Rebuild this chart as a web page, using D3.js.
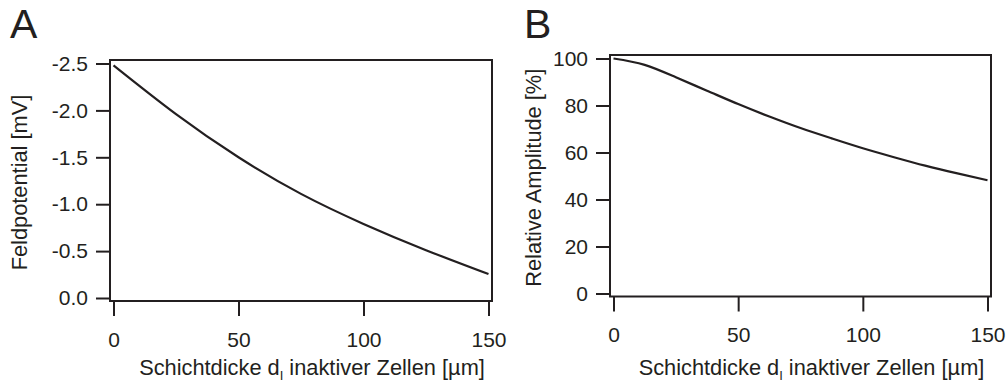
<!DOCTYPE html>
<html>
<head>
<meta charset="utf-8">
<script src="https://cdn.jsdelivr.net/npm/d3@7/dist/d3.min.js"></script>
<style>
  body { margin: 0; background: #fff; }
  svg text { font-family: "Liberation Sans", Arial, Helvetica, sans-serif; fill: #231f20; }
</style>
</head>
<body>
<svg id="fig" width="1008" height="382"></svg>
<script>
// Layer thickness of inactive cells (µm)
const thicknessA = [0, 25, 50, 75, 100, 125, 150];
// Field potential (mV) vs. layer thickness
const fieldPotential = [-2.48, -1.96, -1.50, -1.11, -0.79, -0.51, -0.255];

const thicknessB = [0, 12.5, 25, 37.5, 50, 62.5, 75, 87.5, 100, 112.5, 125, 137.5, 150];
// Relative amplitude (%) vs. layer thickness
const relAmplitude = [100, 97.3, 92.0, 86.3, 80.6, 75.3, 70.4, 66.0, 61.8, 58.0, 54.4, 51.2, 48.2];

const xTicks = [0, 50, 100, 150];
const yTicksA = [0, -0.5, -1.0, -1.5, -2.0, -2.5];
const yTicksB = [0, 20, 40, 60, 80, 100];

const ink = "#231f20";
const svg = d3.select("#fig");

function panel(opt) {
  const g = svg.append("g");
  const { box } = opt;
  const x = d3.scaleLinear().domain([0, 150]).range([box.left + 3.5, box.right - 3.5]);
  const y = d3.scaleLinear().domain(opt.yDomain).range([box.bottom - 3, box.top + 3.5]);

  // y axis ticks on the left edge of the frame
  const ya = g.append("g")
    .attr("transform", `translate(${box.left},0)`)
    .call(d3.axisLeft(y).tickValues(opt.yTicks).tickSize(14).tickPadding(8)
      .tickFormat(opt.yFormat));
  // x axis ticks below the frame
  const xa = g.append("g")
    .attr("transform", `translate(0,${box.bottom})`)
    .call(d3.axisBottom(x).tickValues(xTicks).tickSize(15).tickPadding(16)
      .tickFormat(d3.format("d")));
  [ya, xa].forEach(a => {
    a.select(".domain").remove();
    a.selectAll(".tick line").attr("stroke", ink).attr("stroke-width", 2);
    a.selectAll(".tick text").style("font-size", "21px").attr("fill", ink);
  });

  // frame
  g.append("rect")
    .attr("x", box.left).attr("y", box.top)
    .attr("width", box.right - box.left).attr("height", box.bottom - box.top)
    .attr("fill", "none").attr("stroke", ink).attr("stroke-width", 2);

  // curve
  const line = d3.line().x(d => x(d[0])).y(d => y(d[1])).curve(d3.curveNatural);
  g.append("path")
    .datum(d3.zip(opt.xs, opt.ys))
    .attr("d", line)
    .attr("fill", "none").attr("stroke", ink).attr("stroke-width", 2.2)
    .attr("stroke-linejoin", "round");

  // x axis title with subscript
  const xt = g.append("text")
    .attr("x", (box.left + box.right) / 2 + 11).attr("y", 375)
    .attr("text-anchor", "middle").style("font-size", "21.8px");
  xt.append("tspan").text("Schichtdicke d");
  xt.append("tspan").attr("dy", 5).style("font-size", "13px").text("I");
  xt.append("tspan").attr("dy", -5).text(" inaktiver Zellen [µm]");

  // y axis title
  g.append("text")
    .attr("transform", `translate(${opt.yTitleX},${(box.top + box.bottom) / 2 + 2}) rotate(-90)`)
    .attr("text-anchor", "middle").style("font-size", "21.8px")
    .text(opt.yTitle);

  // panel letter
  g.append("text")
    .attr("x", opt.letterX).attr("y", 38)
    .style("font-size", "41px")
    .text(opt.letter);
}

panel({
  box: { left: 110, right: 492, top: 60, bottom: 301 },
  yDomain: [0, -2.5], yTicks: yTicksA, yFormat: d => d.toFixed(1),
  xs: thicknessA, ys: fieldPotential,
  yTitle: "Feldpotential [mV]", yTitleX: 27, letter: "A", letterX: 10
});

panel({
  box: { left: 610, right: 991, top: 55, bottom: 296.5 },
  yDomain: [0, 100], yTicks: yTicksB, yFormat: d3.format("d"),
  xs: thicknessB, ys: relAmplitude,
  yTitle: "Relative Amplitude [%]", yTitleX: 541, letter: "B", letterX: 524
});
</script>
</body>
</html>
